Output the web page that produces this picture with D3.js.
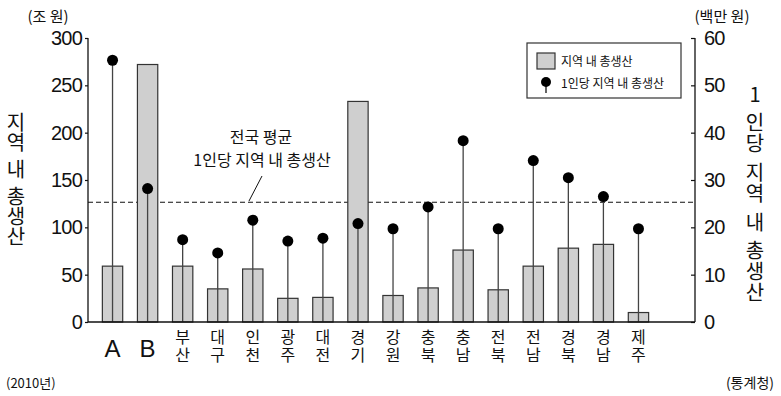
<!DOCTYPE html>
<html>
<head>
<meta charset="utf-8">
<script src="https://cdn.jsdelivr.net/npm/d3@7/dist/d3.min.js"></script>
<style>
  body { margin: 0; background: #fff; }
  svg text { font-family: "Noto Sans CJK KR", "Liberation Sans", sans-serif; fill: #111; }
  .num text, text.num { font-family: "Liberation Sans", Arial, sans-serif; }
  text.vert { writing-mode: vertical-rl; text-orientation: upright; }
</style>
</head>
<body>
<div id="chart"></div>
<script>
// data (2010)
var regions = ["A", "B", "부산", "대구", "인천", "광주", "대전", "경기", "강원", "충북", "충남", "전북", "전남", "경북", "경남", "제주"];
var grdp = [59, 272, 59, 35, 56, 25, 26, 233, 28, 36, 76, 34, 59, 78, 82, 10];        // 조 원
var perCapita = [55.3, 28.2, 17.4, 14.6, 21.5, 17.1, 17.7, 20.8, 19.7, 24.3, 38.3, 19.7, 34.1, 30.5, 26.5, 19.7]; // 백만 원
var nationalAvg = 25.3;
var leftTicks = [0, 50, 100, 150, 200, 250, 300];
var rightTicks = [0, 10, 20, 30, 40, 50, 60];

var W = 781, H = 396;
var axL = 88, axR = 695, y0 = 322, yTop = 38;

var svg = d3.select("#chart").append("svg")
    .attr("width", W)
    .attr("height", H);

var x = d3.scaleBand()
    .domain(regions)
    .range([95, 656])
    .paddingInner(0.42)
    .paddingOuter(0.21);

var yL = d3.scaleLinear().domain([0, 300]).range([y0, yTop]);
var yR = d3.scaleLinear().domain([0, 60]).range([y0, yTop]);

var data = regions.map(function(r, i) {
  return {name: r, grdp: grdp[i], pc: perCapita[i]};
});

// dashed national average line
svg.append("line")
    .attr("x1", axL).attr("x2", axR)
    .attr("y1", yR(nationalAvg)).attr("y2", yR(nationalAvg))
    .attr("stroke", "#111")
    .attr("stroke-width", 1.2)
    .attr("stroke-dasharray", "5,3");

// bars
svg.selectAll(".bar")
    .data(data)
  .enter().append("rect")
    .attr("class", "bar")
    .attr("x", function(d) { return x(d.name); })
    .attr("width", x.bandwidth())
    .attr("y", function(d) { return yL(d.grdp); })
    .attr("height", function(d) { return y0 - yL(d.grdp); })
    .attr("fill", "#cfcfcf")
    .attr("stroke", "#333")
    .attr("stroke-width", 1.2);

// stems + dots
var cx = function(d) { return x(d.name) + x.bandwidth() / 2; };
svg.selectAll(".stem")
    .data(data)
  .enter().append("line")
    .attr("class", "stem")
    .attr("x1", cx).attr("x2", cx)
    .attr("y1", y0)
    .attr("y2", function(d) { return yR(d.pc); })
    .attr("stroke", "#444")
    .attr("stroke-width", 1.3);

svg.selectAll(".dot")
    .data(data)
  .enter().append("circle")
    .attr("class", "dot")
    .attr("cx", cx)
    .attr("cy", function(d) { return yR(d.pc); })
    .attr("r", 5.5)
    .attr("fill", "#000");

// axes
var gL = svg.append("g")
    .attr("class", "num")
    .attr("transform", "translate(" + axL + ",0)")
    .call(d3.axisLeft(yL).tickValues(leftTicks).tickSize(3).tickPadding(3));
var gR = svg.append("g")
    .attr("class", "num")
    .attr("transform", "translate(" + axR + ",0)")
    .call(d3.axisRight(yR).tickValues(rightTicks).tickSize(-4).tickPadding(9));
[gL, gR].forEach(function(g) {
  g.select(".domain").attr("stroke", "#111").attr("stroke-width", 1.3)
      .attr("d", "M0," + yTop + "V" + y0);
  g.selectAll(".tick line").attr("stroke", "#111").attr("stroke-width", 1.2);
  g.selectAll(".tick text")
      .attr("font-size", 20)
      .attr("letter-spacing", -0.8)
      .attr("fill", "#111");
});

// baseline
svg.append("line")
    .attr("x1", axL).attr("x2", axR)
    .attr("y1", y0).attr("y2", y0)
    .attr("stroke", "#111")
    .attr("stroke-width", 1.5);

// x labels
data.forEach(function(d) {
  var t = svg.append("text")
      .attr("x", cx(d));
  if (d.name.length === 1) {
    t.attr("class", "num").attr("text-anchor", "middle")
        .attr("y", 357).attr("font-size", 24).text(d.name);
  } else {
    t.attr("class", "vert").attr("y", 329)
        .attr("font-size", 16).attr("letter-spacing", 2).text(d.name);
  }
});

// units
svg.append("text").attr("x", 48).attr("y", 22).attr("text-anchor", "middle")
    .attr("font-size", 15).text("(조 원)");
svg.append("text").attr("x", 722).attr("y", 22).attr("text-anchor", "middle")
    .attr("font-size", 15).text("(백만 원)");
svg.append("text").attr("x", 6).attr("y", 388)
    .attr("font-size", 13).text("(2010년)");
svg.append("text").attr("x", 774).attr("y", 388).attr("text-anchor", "end")
    .attr("font-size", 14).text("(통계청)");

// vertical titles (one text each, upright vertical writing, narrow spaces)
function vtitle(words, xpos, ypos, size, ls, gap) {
  var t = svg.append("text").attr("class", "vert")
      .attr("x", xpos).attr("y", ypos)
      .attr("font-size", size)
      .attr("letter-spacing", ls);
  words.forEach(function(w, i) {
    if (i > 0) t.append("tspan").attr("font-size", gap).text(" ");
    t.append("tspan").text(w);
  });
}
vtitle(["지역", "내", "총생산"], 16, 112, 20, 0, 7);
vtitle(["1", "인당", "지역", "내", "총생산"], 755, 84, 20, 1.2, 6);

// annotation
svg.append("text").attr("x", 261).attr("y", 143).attr("text-anchor", "middle")
    .attr("font-size", 16).text("전국 평균");
svg.append("text").attr("x", 262).attr("y", 166).attr("text-anchor", "middle")
    .attr("font-size", 16).text("1인당 지역 내 총생산");
svg.append("line")
    .attr("x1", 262).attr("y1", 176)
    .attr("x2", 249).attr("y2", 201)
    .attr("stroke", "#111").attr("stroke-width", 1);

// legend
var lg = svg.append("g").attr("transform", "translate(527,43)");
lg.append("rect").attr("width", 154).attr("height", 55)
    .attr("fill", "#fff").attr("stroke", "#333").attr("stroke-width", 1.2);
lg.append("rect").attr("x", 10).attr("y", 10).attr("width", 18).attr("height", 16)
    .attr("fill", "#cfcfcf").attr("stroke", "#333").attr("stroke-width", 1.2);
lg.append("text").attr("x", 34).attr("y", 23).attr("font-size", 12).text("지역 내 총생산");
lg.append("line").attr("x1", 19).attr("x2", 19).attr("y1", 39).attr("y2", 50)
    .attr("stroke", "#111").attr("stroke-width", 1.3);
lg.append("circle").attr("cx", 19).attr("cy", 39).attr("r", 5).attr("fill", "#000");
lg.append("text").attr("x", 34).attr("y", 45).attr("font-size", 12).text("1인당 지역 내 총생산");
</script>
</body>
</html>
